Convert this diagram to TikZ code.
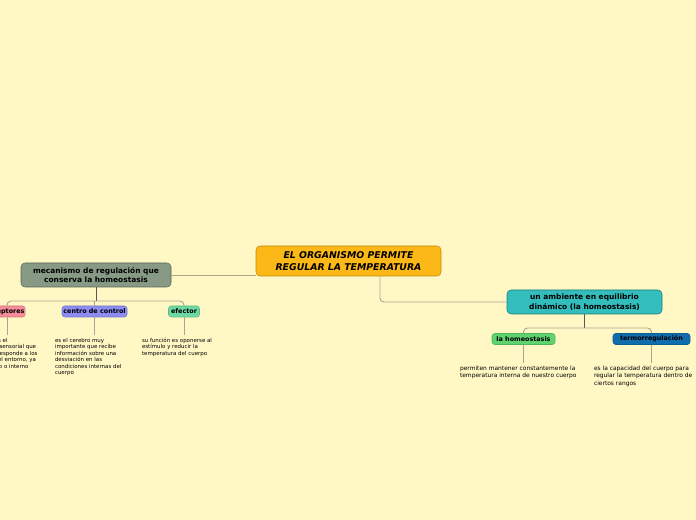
\documentclass[tikz,border=0pt]{standalone}
\usepackage{fontspec}
\setmainfont{DejaVu Sans}
\usepackage{tikz}
\definecolor{paper}{HTML}{FFF8C5}
\definecolor{orgfill}{HTML}{FCB817}
\definecolor{mecfill}{HTML}{879A86}
\definecolor{ambfill}{HTML}{33BDBD}
\definecolor{recfill}{HTML}{F68C9A}
\definecolor{cenfill}{HTML}{8C8CF2}
\definecolor{efefill}{HTML}{6ED8A3}
\definecolor{homfill}{HTML}{5ED36E}
\definecolor{terfill}{HTML}{0F6DAD}
\definecolor{linkgray}{HTML}{ABA590}
\tikzstyle{central}=[draw=orgfill!75!black,fill=orgfill,rounded corners=3pt,align=center,minimum width=138.75pt,minimum height=22.5pt,inner sep=1pt,font=\fontsize{7}{8.6}\selectfont\bfseries\itshape]
\tikzstyle{topic}=[draw=#1!65!black,fill=#1,rounded corners=3pt,align=center,minimum height=18pt,inner sep=1pt,font=\fontsize{5.6}{7}\selectfont\bfseries]
\tikzstyle{leaf}=[draw=#1!85!black,fill=#1,rounded corners=2pt,minimum height=8.25pt,inner sep=0.5pt,font=\fontsize{4.8}{5}\selectfont\bfseries]
\tikzstyle{note}=[anchor=north west,align=left,inner sep=0pt,outer sep=2.25pt,font=\fontsize{4.1}{4.9}\selectfont]
\tikzstyle{link}=[draw=linkgray,line width=0.7pt]
\tikzstyle{stub}=[draw=black!65,line width=0.7pt]

\begin{document}
\begin{tikzpicture}[x=0.75pt,y=-0.75pt]

  \useasboundingbox (0,0) rectangle (696,520);
  \fill[paper] (0,0) rectangle (696,520);
  \clip (0,0) rectangle (696,520);

  % central idea and the two branches
  \node[central] (org) at (348.5,261) {EL ORGANISMO PERMITE\\REGULAR LA TEMPERATURA};
  \node[topic=mecfill,minimum width=112.5pt] (mec) at (96,275) {mecanismo de regulación que\\conserva la homeostasis};
  \node[topic=ambfill,minimum width=116.25pt] (amb) at (584.5,302) {un ambiente en equilibrio\\dinámico (la homeostasis)};

  \draw[link] (mec.east) -- (mec.east -| org.west);
  \draw[link,rounded corners=3pt] ([xshift=23.6pt]org.south) |- (amb.west);

  % left branch
  \coordinate (mbar) at (96,301);
  \node[leaf=recfill,minimum width=30pt] (rec) at (5,311.5) {receptores};
  \node[leaf=cenfill,minimum width=48.75pt] (cen) at (94.5,311.5) {centro de control};
  \node[leaf=efefill,minimum width=23.25pt] (efe) at (184,311.5) {efector};

  \draw[stub] (mec.south) -- (mbar);
  \draw[link,rounded corners=3pt] ([xshift=1.5pt]rec.north) |- (mbar) -| (efe.north);
  \draw[link] (cen.north) -- (cen.north |- mbar);

  \node[note] (rectxt) at (-33,335) {receptor es el\\un órgano sensorial que\\detecta y responde a los\\cambios del entorno, ya\\sea externo o interno};
  \node[note] (centxt) at (52,335) {es el cerebro muy\\importante que recibe\\información sobre una\\desviación en las\\condiciones internas del\\cuerpo};
  \node[note] (efetxt) at (139,335) {su función es oponerse al\\estímulo y reducir la\\temperatura del cuerpo};

  \draw[link] ([xshift=1.5pt]rec.south) -- ([xshift=1.5pt]rec.south |- rectxt.north);
  \draw[link] (cen.south) -- (cen.south |- centxt.north);
  \draw[link] (efe.south) -- (efe.south |- efetxt.north);

  % right branch
  \coordinate (abar) at (584.5,328);
  \node[leaf=homfill,minimum width=47.25pt] (hom) at (523.5,339) {la homeostasis};
  \node[leaf=terfill,minimum width=57.75pt] (ter) at (651.5,339) {termorregulación};

  \draw[stub] (amb.south) -- (abar);
  \draw[link,rounded corners=3pt] (hom.north) |- (abar) -| (ter.north);

  \node[note,font=\fontsize{4.45}{5.5}\selectfont] (homtxt) at (457,363) {permiten mantener constantemente la\\temperatura interna de nuestro cuerpo};
  \node[note,font=\fontsize{4.45}{5.5}\selectfont] (tertxt) at (591,363) {es la capacidad del cuerpo para\\regular la temperatura dentro de\\ciertos rangos};

  \draw[link] (hom.south) -- (hom.south |- homtxt.north);
  \draw[link] (ter.south) -- (ter.south |- tertxt.north);

\end{tikzpicture}
\end{document}
